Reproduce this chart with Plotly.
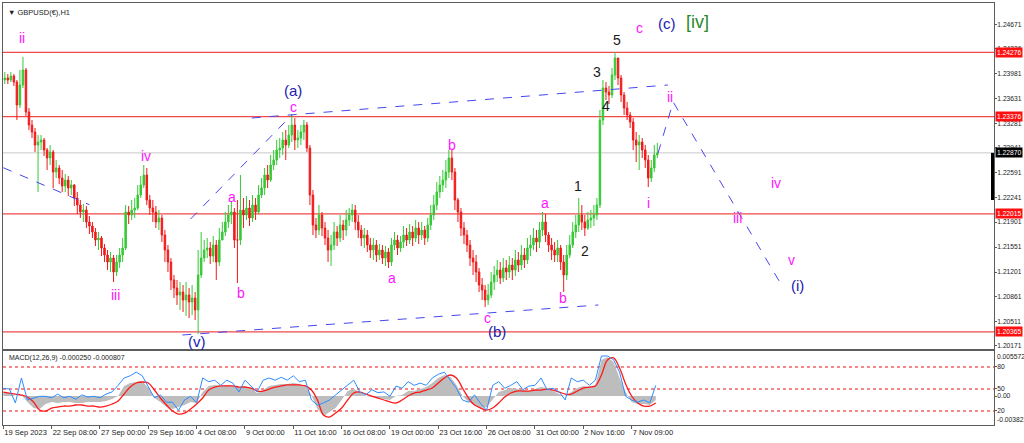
import plotly.graph_objects as go

# ---------------- data ----------------
SYMBOL_TITLE = "▼ GBPUSD(€),H1"
MACD_TITLE = "MACD(12,26,9) -0.000250 -0.000807"

BARS_PER_CANDLE = 4          # hourly bars grouped into 4-hour candles
FIRST_OPEN = 1.23890
CLOSES = [
    1.23918, 1.23890, 1.23946, 1.23862, 1.23540, 1.23820, 1.24030, 1.23442, 1.23260, 1.23162,
    1.22980, 1.23022, 1.23050, 1.22910, 1.22798, 1.22882, 1.22602, 1.22658, 1.22518, 1.22406,
    1.22490, 1.22378, 1.22420, 1.22238, 1.22140, 1.22042, 1.22070, 1.21902, 1.21846, 1.21762,
    1.21650, 1.21678, 1.21538, 1.21440, 1.21342, 1.21398, 1.21202, 1.21342, 1.21440, 1.21538,
    1.22042, 1.22000, 1.22070, 1.22098, 1.22280, 1.22420, 1.22560, 1.22210, 1.22098, 1.22042,
    1.21902, 1.21958, 1.21720, 1.21510, 1.21342, 1.21090, 1.20978, 1.20880, 1.20922, 1.20810,
    1.20880, 1.20782, 1.20838, 1.20670, 1.21160, 1.21398, 1.21510, 1.21538, 1.21426, 1.21580,
    1.21342, 1.21650, 1.21762, 1.21902, 1.22000, 1.22042, 1.21650, 1.21650, 1.22070, 1.22000,
    1.22098, 1.21958, 1.22140, 1.22042, 1.22280, 1.22378, 1.22560, 1.22490, 1.22700, 1.22770,
    1.22910, 1.22938, 1.23050, 1.22980, 1.23120, 1.23260, 1.23050, 1.23078, 1.23162, 1.23260,
    1.22938, 1.22280, 1.21860, 1.21790, 1.22000, 1.21818, 1.21678, 1.21510, 1.21580, 1.21762,
    1.21678, 1.21860, 1.21790, 1.21930, 1.22000, 1.22070, 1.21902, 1.21790, 1.21678, 1.21720,
    1.21580, 1.21510, 1.21580, 1.21440, 1.21510, 1.21398, 1.21482, 1.21342, 1.21580, 1.21650,
    1.21538, 1.21622, 1.21720, 1.21650, 1.21762, 1.21678, 1.21818, 1.21720, 1.21790, 1.21678,
    1.21860, 1.22000, 1.22140, 1.22322, 1.22420, 1.22490, 1.22602, 1.22798, 1.22602, 1.22210,
    1.22042, 1.21818, 1.21720, 1.21580, 1.21398, 1.21342, 1.21202, 1.21020, 1.20950, 1.20810,
    1.20880, 1.21062, 1.21160, 1.21230, 1.21118, 1.21258, 1.21202, 1.21300, 1.21230, 1.21370,
    1.21300, 1.21440, 1.21370, 1.21538, 1.21580, 1.21678, 1.21622, 1.21790, 1.21902, 1.21720,
    1.21580, 1.21510, 1.21440, 1.21538, 1.21342, 1.21160, 1.21440, 1.21580, 1.21762, 1.21860,
    1.22000, 1.21902, 1.21818, 1.21930, 1.21958, 1.22000, 1.22140, 1.23330, 1.23778, 1.23722,
    1.23680, 1.23960, 1.24198, 1.23918, 1.23680, 1.23498, 1.23400, 1.23302, 1.23050, 1.22980,
    1.23022, 1.22910, 1.22770, 1.22518, 1.22658, 1.22840, 1.22868,
]
HIGHS = [
    1.24002, 1.23974, 1.24002, 1.23974, 1.23890, 1.24030, 1.24212, 1.24058, 1.23498, 1.23330,
    1.23218, 1.23120, 1.23120, 1.23078, 1.22938, 1.22980, 1.22910, 1.22770, 1.22700, 1.22630,
    1.22574, 1.22546, 1.22490, 1.22434, 1.22322, 1.22210, 1.22154, 1.22126, 1.21986, 1.21902,
    1.21818, 1.21762, 1.21706, 1.21594, 1.21510, 1.21482, 1.21440, 1.21440, 1.21538, 1.21678,
    1.22140, 1.22126, 1.22210, 1.22238, 1.22420, 1.22546, 1.22700, 1.22658, 1.22280, 1.22210,
    1.22126, 1.22070, 1.22000, 1.21790, 1.21580, 1.21398, 1.21160, 1.21090, 1.21062, 1.21020,
    1.21062, 1.20978, 1.21020, 1.20922, 1.21510, 1.21762, 1.21650, 1.21678, 1.21622, 1.21706,
    1.21650, 1.21818, 1.21902, 1.22042, 1.22140, 1.22182, 1.22098, 1.22210, 1.22560, 1.22238,
    1.22266, 1.22210, 1.22280, 1.22238, 1.22420, 1.22518, 1.22658, 1.22700, 1.22840, 1.22910,
    1.23050, 1.23078, 1.23162, 1.23190, 1.23260, 1.23414, 1.23358, 1.23190, 1.23260, 1.23330,
    1.23302, 1.22980, 1.22350, 1.21958, 1.22140, 1.22042, 1.21902, 1.21790, 1.21720, 1.21902,
    1.21846, 1.22000, 1.21930, 1.22070, 1.22098, 1.22154, 1.22140, 1.22000, 1.21860, 1.21818,
    1.21790, 1.21678, 1.21678, 1.21650, 1.21594, 1.21580, 1.21566, 1.21538, 1.21678, 1.21762,
    1.21720, 1.21706, 1.21846, 1.21818, 1.21874, 1.21846, 1.21930, 1.21902, 1.21902, 1.21846,
    1.21958, 1.22140, 1.22280, 1.22462, 1.22546, 1.22630, 1.22770, 1.22910, 1.22910, 1.22658,
    1.22238, 1.22098, 1.21902, 1.21790, 1.21650, 1.21510, 1.21440, 1.21258, 1.21118, 1.21020,
    1.21034, 1.21202, 1.21286, 1.21370, 1.21342, 1.21398, 1.21370, 1.21426, 1.21398, 1.21510,
    1.21482, 1.21580, 1.21538, 1.21678, 1.21720, 1.21818, 1.21790, 1.21902, 1.22042, 1.22014,
    1.21762, 1.21678, 1.21622, 1.21650, 1.21580, 1.21440, 1.21580, 1.21720, 1.21902, 1.22000,
    1.22238, 1.22140, 1.22000, 1.22042, 1.22070, 1.22140, 1.22238, 1.23470, 1.23890, 1.23862,
    1.23806, 1.24058, 1.24282, 1.24170, 1.23960, 1.23722, 1.23582, 1.23442, 1.23358, 1.23162,
    1.23120, 1.23078, 1.22980, 1.22840, 1.22770, 1.22980, 1.23008,
]
LOWS = [
    1.23834, 1.23834, 1.23862, 1.23806, 1.23330, 1.23498, 1.23778, 1.23386, 1.23190, 1.23078,
    1.22882, 1.22322, 1.22910, 1.22826, 1.22630, 1.22700, 1.22378, 1.22518, 1.22434, 1.22322,
    1.22322, 1.22266, 1.22280, 1.22126, 1.22014, 1.21958, 1.21902, 1.21818, 1.21734, 1.21678,
    1.21566, 1.21510, 1.21426, 1.21342, 1.21230, 1.21202, 1.21062, 1.21146, 1.21258, 1.21342,
    1.21510, 1.21874, 1.21930, 1.21958, 1.22070, 1.22238, 1.22378, 1.22140, 1.22000, 1.21902,
    1.21818, 1.21790, 1.21622, 1.21342, 1.21202, 1.20950, 1.20838, 1.20740, 1.20670, 1.20642,
    1.20586, 1.20558, 1.20600, 1.20530, 1.20334, 1.21118, 1.21342, 1.21398, 1.21314, 1.21342,
    1.21090, 1.21286, 1.21650, 1.21706, 1.21818, 1.21874, 1.21538, 1.21048, 1.21580, 1.21818,
    1.21930, 1.21846, 1.21902, 1.21930, 1.22014, 1.22238, 1.22280, 1.22378, 1.22462, 1.22630,
    1.22700, 1.22798, 1.22840, 1.22770, 1.22938, 1.23022, 1.22910, 1.22938, 1.22980, 1.23050,
    1.22882, 1.22140, 1.21720, 1.21678, 1.21720, 1.21706, 1.21580, 1.21342, 1.21286, 1.21510,
    1.21566, 1.21622, 1.21650, 1.21706, 1.21846, 1.21902, 1.21790, 1.21678, 1.21566, 1.21538,
    1.21482, 1.21398, 1.21370, 1.21342, 1.21370, 1.21314, 1.21286, 1.21258, 1.21286, 1.21510,
    1.21440, 1.21482, 1.21538, 1.21566, 1.21594, 1.21566, 1.21622, 1.21594, 1.21650, 1.21580,
    1.21622, 1.21790, 1.21930, 1.22070, 1.22238, 1.22322, 1.22378, 1.22518, 1.22490, 1.22070,
    1.21902, 1.21706, 1.21594, 1.21482, 1.21286, 1.21160, 1.21062, 1.20922, 1.20810, 1.20712,
    1.20740, 1.20838, 1.20950, 1.21062, 1.21034, 1.21062, 1.21090, 1.21118, 1.21090, 1.21146,
    1.21202, 1.21230, 1.21258, 1.21314, 1.21426, 1.21510, 1.21482, 1.21538, 1.21706, 1.21622,
    1.21482, 1.21370, 1.21342, 1.21342, 1.21230, 1.20922, 1.21090, 1.21398, 1.21538, 1.21678,
    1.21762, 1.21790, 1.21706, 1.21790, 1.21818, 1.21846, 1.21930, 1.22098, 1.23260, 1.23610,
    1.23554, 1.23638, 1.23890, 1.23820, 1.23582, 1.23400, 1.23330, 1.23218, 1.22910, 1.22742,
    1.22630, 1.22798, 1.22658, 1.22392, 1.22462, 1.22602, 1.22798,
]

TIME_TICK_BARS = [0, 64, 128, 192, 256, 320, 384, 448, 512, 576, 640, 704, 768, 832]
TIME_TICK_LABELS = ["19 Sep 2023", "22 Sep 08:00", "27 Sep 00:00", "29 Sep 16:00",
                    "4 Oct 08:00", "9 Oct 00:00", "11 Oct 16:00", "16 Oct 08:00",
                    "19 Oct 00:00", "23 Oct 16:00", "26 Oct 08:00", "31 Oct 00:00",
                    "2 Nov 16:00", "7 Nov 09:00"]
VISIBLE_BARS = [-0.4, 1311.8]

PRICE_TICKS = [1.24671, 1.24326, 1.23981, 1.23631, 1.23281, 1.22941, 1.22591,
               1.22241, 1.21901, 1.21551, 1.21201, 1.20861, 1.20511, 1.20171]
PRICE_RANGE = [1.20124, 1.24968]
LEVELS = [1.24276, 1.23376, 1.22015, 1.20365]
CURRENT_PRICE = 1.22870
MARKER_LOW = 1.22210   # bottom of the thick bar beside the price scale

# wave-count drawing: dashed blue lines (bar index, price)
LINE_BARS = [[0, 114], [248, 382], [329, 880], [237, 788], [867, 887, 1032]]
LINE_PRICES = [[1.22662, 1.22144], [1.21944, 1.23400], [1.23358, 1.23820],
               [1.20320, 1.20740], [1.22868, 1.23582, 1.20992]]

PINK_TEXT = ["ii", "iii", "iv", "a", "b", "c", "a", "b", "c", "a", "b", "c",
             "ii", "i", "iii", "iv", "v"]
PINK_BARS = [25, 148, 189, 303, 315, 384, 515, 594, 641, 717, 741, 843,
             883, 854, 972, 1023, 1043]
PINK_PRICES = [1.24478, 1.20880, 1.22826, 1.22252, 1.20908, 1.23512, 1.21118,
               1.22980, 1.20558, 1.22168, 1.20838, 1.24618, 1.23652, 1.22168,
               1.21958, 1.22448, 1.21370]
BLUE_TEXT = ["(a)", "(v)", "(b)", "(c)", "(i)"]
BLUE_BARS = [384, 257, 654, 879, 1052]
BLUE_PRICES = [1.23750, 1.20236, 1.20375, 1.24688, 1.21020]
GREEN_TEXT = ["[iv]"]
GREEN_BARS = [919]
GREEN_PRICES = [1.24702]
BLACK_TEXT = ["1", "2", "3", "4", "5"]
BLACK_BARS = [761, 770, 786, 798, 813]
BLACK_PRICES = [1.22406, 1.21496, 1.24002, 1.23526, 1.24450]

# lower panel, sampled every 8 hourly bars
MACD_STEP = 8
MACD_HIST = [
    0.00039, 0.00039, 0.0, 0.00013, -0.00078, -0.00157, -0.00170, -0.00104, -0.00078, -0.00091,
    -0.00078, -0.00078, -0.00091, -0.00091, -0.00078, -0.00078, -0.00078, -0.00065, -0.00039, 0.0,
    0.00131, 0.00170, 0.00183, 0.00196, 0.00104, -0.00026, -0.00078, -0.00144, -0.00170, -0.00144,
    -0.00117, -0.00078, -0.00091, 0.00052, 0.00131, 0.00144, 0.00131, 0.00144, 0.00131, 0.00117,
    0.00131, 0.00104, 0.00039, 0.00078, 0.00131, 0.00144, 0.00157, 0.00157, 0.00170, 0.00157,
    0.00131, 0.00013, -0.00170, -0.00261, -0.00209, -0.00157, -0.00052, 0.00065, 0.00091, 0.00052,
    0.0, -0.00013, -0.00026, -0.00039, -0.00052, 0.0, 0.00013, 0.00065, 0.00065, 0.00091,
    0.00117, 0.00170, 0.00235, 0.00274, 0.00248, 0.00144, 0.0, -0.00078, -0.00117, -0.00157,
    -0.00144, -0.00052, 0.00052, 0.00078, 0.00104, 0.00091, 0.00078, 0.00065, 0.00091, 0.00117,
    0.00104, 0.00065, 0.00026, 0.0, 0.00052, 0.00104, 0.00131, 0.00117, 0.00144, 0.00470,
    0.00509, 0.00444, 0.00235, 0.00052, -0.00078, -0.00104, -0.00104, -0.00117, -0.00052,
]
MACD_SIGNAL = [
    0.00052, 0.00039, 0.00026, 0.00013, -0.00013, -0.00078, -0.00183, -0.00196, -0.00157, -0.00144,
    -0.00131, -0.00131, -0.00117, -0.00117, -0.00131, -0.00131, -0.00144, -0.00131, -0.00104, -0.00065,
    0.00026, 0.00117, 0.00170, 0.00183, 0.00170, 0.00078, -0.00026, -0.00117, -0.00196, -0.00235,
    -0.00222, -0.00170, -0.00104, -0.00026, 0.00078, 0.00117, 0.00131, 0.00131, 0.00131, 0.00117,
    0.00117, 0.00104, 0.00065, 0.00065, 0.00091, 0.00117, 0.00131, 0.00144, 0.00144, 0.00144,
    0.00131, 0.00078, -0.00052, -0.00248, -0.00274, -0.00222, -0.00157, -0.00052, 0.00039, 0.00052,
    0.00026, 0.0, -0.00026, -0.00052, -0.00078, -0.00091, -0.00052, 0.0, 0.00039, 0.00052,
    0.00078, 0.00104, 0.00170, 0.00235, 0.00274, 0.00235, 0.00104, -0.00026, -0.00117, -0.00157,
    -0.00183, -0.00157, -0.00091, -0.00013, 0.00039, 0.00065, 0.00065, 0.00065, 0.00078, 0.00078,
    0.00091, 0.00078, 0.00052, 0.00026, 0.00026, 0.00065, 0.00104, 0.00117, 0.00131, 0.00274,
    0.00470, 0.00496, 0.00365, 0.00157, 0.0, -0.00091, -0.00131, -0.00131, -0.00091,
]
OSC_LINE = [
    51, 50, 31, 65, 35, 38, 40, 40, 38, 43, 38, 40, 36, 42, 39, 40, 38, 43, 46, 55,
    65, 68, 73, 68, 54, 38, 42, 32, 32, 21, 35, 40, 31, 65, 60, 62, 55, 62, 58, 46,
    62, 54, 46, 62, 65, 62, 66, 62, 68, 60, 62, 35, 28, 31, 35, 42, 49, 55, 62, 46,
    42, 49, 45, 46, 40, 54, 51, 60, 55, 58, 55, 65, 70, 73, 62, 51, 35, 32, 42, 30,
    21, 55, 60, 51, 55, 60, 49, 54, 55, 65, 49, 51, 46, 35, 65, 60, 62, 55, 62, 95,
    95, 90, 73, 40, 35, 32, 35, 31, 55,
]
OSC_LEVELS = [80, 50, 20]
MACD_RANGE = [-0.00378, 0.00587]
OSC_RANGE = [0.9, 101.8]
MACD_MAX_LABEL = "0.005572"
MACD_MIN_LABEL = "-0.003822"

# ---------------- figure ----------------
FONT = "Liberation Sans, Arial, sans-serif"
candle_x = [BARS_PER_CANDLE * i + 2 for i in range(len(CLOSES))]
opens = [FIRST_OPEN] + CLOSES[:-1]
macd_x = [MACD_STEP * j for j in range(len(MACD_HIST))]

fig = go.Figure()

fig.add_trace(go.Candlestick(
    x=candle_x, open=opens, high=HIGHS, low=LOWS, close=CLOSES,
    increasing=dict(line=dict(color="#36c936", width=1), fillcolor="#36c936"),
    decreasing=dict(line=dict(color="#f01a1a", width=1), fillcolor="#f01a1a"),
    whiskerwidth=0, xaxis="x", yaxis="y", hoverinfo="skip",
))

for bx, py in zip(LINE_BARS, LINE_PRICES):
    fig.add_trace(go.Scatter(x=bx, y=py, mode="lines", xaxis="x", yaxis="y",
                             line=dict(color="#4646f0", width=1, dash="dash"),
                             hoverinfo="skip"))

fig.add_trace(go.Scatter(x=macd_x, y=MACD_HIST, mode="lines", fill="tozeroy",
                         fillcolor="#bdbdbd", line=dict(width=0, color="#bdbdbd"),
                         xaxis="x2", yaxis="y2", hoverinfo="skip"))
fig.add_trace(go.Scatter(x=macd_x, y=MACD_SIGNAL, mode="lines",
                         line=dict(color="#ff1a1a", width=1.3, shape="spline"),
                         xaxis="x2", yaxis="y2", hoverinfo="skip"))
fig.add_trace(go.Scatter(x=macd_x, y=OSC_LINE, mode="lines",
                         line=dict(color="#2d8cff", width=1),
                         xaxis="x2", yaxis="y3", hoverinfo="skip"))

shapes = []
for lv in LEVELS:
    shapes.append(dict(type="line", xref="paper", x0=0, x1=1, yref="y", y0=lv, y1=lv,
                       line=dict(color="#f24848", width=1.2), layer="below"))
shapes.append(dict(type="line", xref="paper", x0=0, x1=1, yref="y",
                   y0=CURRENT_PRICE, y1=CURRENT_PRICE,
                   line=dict(color="#c8c8c8", width=1), layer="below"))
shapes.append(dict(type="line", xref="paper", x0=0.9985, x1=0.9985, yref="y",
                   y0=CURRENT_PRICE, y1=MARKER_LOW, line=dict(color="#000000", width=3)))
for lv in OSC_LEVELS:
    shapes.append(dict(type="line", xref="paper", x0=0, x1=1, yref="y3", y0=lv, y1=lv,
                       line=dict(color="#f26060", width=1.3, dash="dot"), layer="below"))

annotations = []


def add_labels(texts, bars, prices, color, size):
    for t, b, p in zip(texts, bars, prices):
        annotations.append(dict(x=b, y=p, xref="x", yref="y", text=t, showarrow=False,
                                font=dict(family=FONT, size=size, color=color)))


add_labels(PINK_TEXT, PINK_BARS, PINK_PRICES, "#ff14ff", 14)
add_labels(BLUE_TEXT, BLUE_BARS, BLUE_PRICES, "#2020b0", 15)
add_labels(GREEN_TEXT, GREEN_BARS, GREEN_PRICES, "#2a8a2a", 18)
add_labels(BLACK_TEXT, BLACK_BARS, BLACK_PRICES, "#1a1a1a", 14)

LABEL_SIZE = 6.7
for lv in LEVELS:
    annotations.append(dict(x=1, xref="paper", y=lv, yref="y", text=f"{lv:.5f}",
                            showarrow=False, xanchor="left", xshift=1,
                            bgcolor="#ff1010", borderpad=1,
                            font=dict(family=FONT, size=LABEL_SIZE, color="white")))
annotations.append(dict(x=1, xref="paper", y=CURRENT_PRICE, yref="y",
                        text=f"{CURRENT_PRICE:.5f}", showarrow=False, xanchor="left",
                        xshift=1, bgcolor="#000000", borderpad=1,
                        font=dict(family=FONT, size=LABEL_SIZE, color="white")))
annotations.append(dict(x=0, y=1, xref="paper", yref="paper", text=SYMBOL_TITLE,
                        showarrow=False, xanchor="left", yanchor="top", xshift=3, yshift=-3,
                        font=dict(family=FONT, size=7.5, color="#222222")))

MACD_TOP = 74 / 422
annotations.append(dict(x=0, y=MACD_TOP, xref="paper", yref="paper", text=MACD_TITLE,
                        showarrow=False, xanchor="left", yanchor="top", xshift=4, yshift=-1,
                        font=dict(family=FONT, size=7, color="#222222")))
annotations.append(dict(x=1, y=MACD_TOP, xref="paper", yref="paper", text=MACD_MAX_LABEL,
                        showarrow=False, xanchor="left", yanchor="top", xshift=1, yshift=0,
                        font=dict(family=FONT, size=LABEL_SIZE, color="#222222")))
annotations.append(dict(x=1, y=0, xref="paper", yref="paper", text=MACD_MIN_LABEL,
                        showarrow=False, xanchor="left", yanchor="bottom", xshift=1, yshift=0,
                        font=dict(family=FONT, size=LABEL_SIZE, color="#222222")))

frame = "#5c5c5c"
axis_font = dict(family=FONT, size=LABEL_SIZE, color="#222222")

fig.update_layout(
    width=1024, height=443,
    margin=dict(l=3, r=30, t=3, b=18, autoexpand=False),
    paper_bgcolor="white", plot_bgcolor="white",
    showlegend=False, hovermode=False,
    shapes=shapes, annotations=annotations,
    xaxis=dict(domain=[0, 1], anchor="y", range=VISIBLE_BARS, showticklabels=False,
               ticks="", showgrid=False, zeroline=False, showline=True, mirror=True,
               linecolor=frame, linewidth=1, rangeslider=dict(visible=False),
               automargin=False),
    yaxis=dict(domain=[76 / 422, 1], anchor="x", side="right", range=PRICE_RANGE,
               tickvals=PRICE_TICKS, ticktext=[f"{v:.5f}" for v in PRICE_TICKS],
               ticks="outside", ticklen=2, tickcolor=frame, tickfont=axis_font,
               ticklabelstandoff=-1,
               showgrid=False, zeroline=False, showline=True, mirror=True,
               linecolor=frame, linewidth=1, automargin=False),
    xaxis2=dict(domain=[0, 1], anchor="y2", matches="x", range=VISIBLE_BARS,
                tickvals=TIME_TICK_BARS, ticktext=TIME_TICK_LABELS, tickangle=0,
                ticks="outside", ticklen=3, tickcolor=frame,
                ticklabelposition="outside right",
                tickfont=dict(family=FONT, size=7.5, color="#222222"),
                showgrid=False, zeroline=False, showline=True, mirror=True,
                linecolor=frame, linewidth=1, automargin=False),
    yaxis2=dict(domain=[0, MACD_TOP], anchor="x2", side="right", range=MACD_RANGE,
                tickvals=[0], ticktext=["0.00"], ticks="outside", ticklen=2,
                ticklabelstandoff=-1,
                tickcolor=frame, tickfont=axis_font, showgrid=False, zeroline=False,
                showline=True, mirror=True, linecolor=frame, linewidth=1,
                automargin=False),
    yaxis3=dict(overlaying="y2", anchor="x2", side="right", range=OSC_RANGE,
                tickvals=OSC_LEVELS, ticktext=[str(v) for v in OSC_LEVELS],
                ticks="outside", ticklen=2, tickcolor=frame, tickfont=axis_font,
                ticklabelstandoff=-1,
                showgrid=False, zeroline=False, showline=False, automargin=False),
)

# remove the page's default body margin so the figure sits at the window's corner
fig.write_html("out.html", config={"displayModeBar": False, "staticPlot": True},
               post_script="document.body.style.margin='0';document.body.style.overflow='hidden';")
